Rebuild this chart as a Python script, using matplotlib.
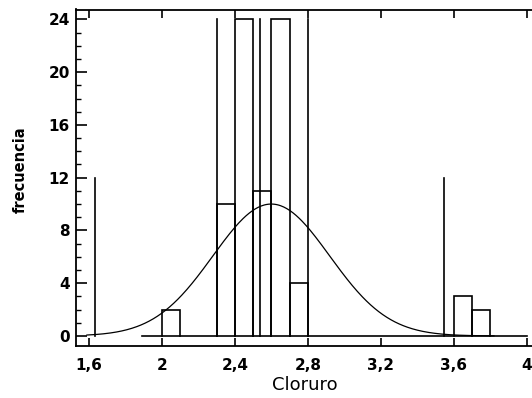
import numpy as np
import matplotlib
matplotlib.use("Agg")
import matplotlib.pyplot as plt
from matplotlib.ticker import MultipleLocator

# Histogram bars (bin left edge, bin right edge, count)
bar_left = [2.0, 2.3, 2.4, 2.5, 2.6, 2.7, 3.6, 3.7]
bar_right = [2.1, 2.4, 2.5, 2.6, 2.7, 2.8, 3.7, 3.8]
bar_count = [2, 10, 24, 11, 24, 4, 3, 2]

# Stray vertical lines drawn by the original program
spike_x = [1.637, 2.3, 2.54, 2.8, 3.545]
spike_h = [12, 24, 24, 24, 12]

# Fitted normal curve parameters
curve_mean = 2.6
curve_sd = 0.32
curve_peak = 10
curve_from, curve_to = 1.59, 3.82

# Zero baseline extent
base_from, base_to = 1.89, 4.0

x_ticks = [1.6, 2.0, 2.4, 2.8, 3.2, 3.6, 4.0]
x_tick_labels = ["1,6", "2", "2,4", "2,8", "3,2", "3,6", "4"]
y_ticks = [0, 4, 8, 12, 16, 20, 24]
y_tick_labels = ["0", "4", "8", "12", "16", "20", "24"]

fig = plt.figure(figsize=(5.32, 3.98), dpi=100)
W, H = 532, 398
ax = fig.add_axes([75.5 / W, (H - 345.7) / H, (534.5 - 75.5) / W, (345.7 - 9.5) / H])

lw = 1.2
for l, r, c in zip(bar_left, bar_right, bar_count):
    ax.plot([l, l, r, r], [0, c, c, 0], color="black", lw=lw, solid_joinstyle="miter")

for x, h in zip(spike_x, spike_h):
    ax.plot([x, x], [0, h], color="black", lw=lw)

ax.plot([base_from, base_to], [0, 0], color="black", lw=lw)

xs = np.linspace(curve_from, curve_to, 400)
ys = curve_peak * np.exp(-0.5 * ((xs - curve_mean) / curve_sd) ** 2)
ax.plot(xs, ys, color="black", lw=0.9)

ax.set_xlim(1.5275, 4.042)
ax.set_ylim(-0.74, 24.75)

ax.set_xticks(x_ticks)
ax.set_xticklabels(x_tick_labels, fontsize=11, fontweight="bold")
ax.set_yticks(y_ticks)
ax.set_yticklabels(y_tick_labels, fontsize=11, fontweight="bold")
ax.yaxis.set_minor_locator(MultipleLocator(1))

ax.tick_params(axis="x", which="major", direction="in", length=6, width=1.2,
               top=True, bottom=True, pad=9)
ax.tick_params(axis="y", which="major", direction="in", length=8, width=1.2,
               left=True, right=False, pad=4)
ax.tick_params(axis="y", which="minor", direction="in", length=3.5, width=1.0,
               left=True, right=False)

for s in ax.spines.values():
    s.set_linewidth(1.3)
ax.spines["right"].set_visible(False)

ax.set_xlabel("Cloruro", fontsize=13, labelpad=2)
ax.set_ylabel("frecuencia", fontsize=10.5, fontweight="bold")
ax.yaxis.set_label_coords(-0.103, 0.523)

fig.savefig("out.png", dpi=100)
